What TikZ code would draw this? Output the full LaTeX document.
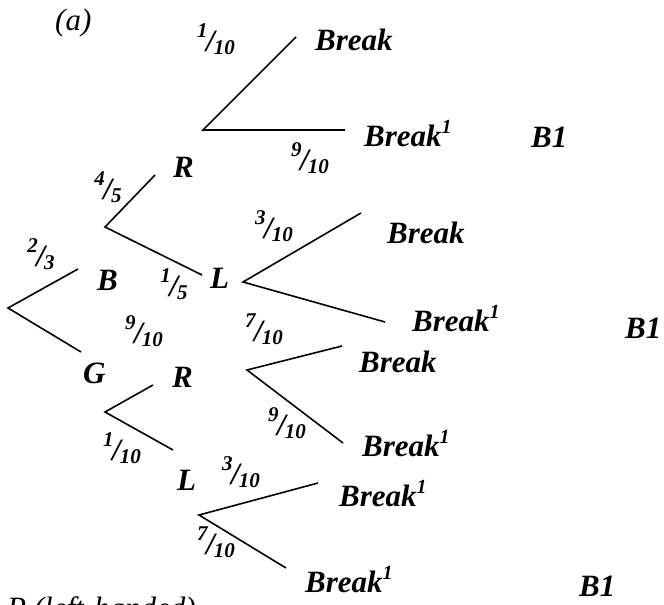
\documentclass[tikz,border=0pt]{standalone}
\usepackage{fontspec}
\setmainfont{Liberation Serif}
\newcommand{\frc}[2]{\raisebox{14pt}{\fontsize{21}{21}\selectfont#1}\kern-1.5pt/\kern-1pt\raisebox{-3.5pt}{\fontsize{21}{21}\selectfont#2}}
\newcommand{\brk}{Break\raisebox{13pt}{\fontsize{20}{20}\selectfont 1}}

\begin{document}
\begin{tikzpicture}[x=1pt, y=-1pt,
    lbl/.style={font=\bfseries\itshape\fontsize{31}{36}\selectfont, inner sep=0pt, anchor=base west},
    prob/.style={font=\bfseries\itshape\fontsize{31}{36}\selectfont, inner sep=0pt},
    note/.style={font=\itshape\fontsize{31}{36}\selectfont, inner sep=0pt, anchor=base west}]
    \useasboundingbox (0,0) rectangle (664,605);

    % branch points and free ends
    \coordinate (root) at (8,308);
    \coordinate (rootu) at (78,269);
    \coordinate (rootd) at (81,352);
    \coordinate (bv) at (105,227);
    \coordinate (bu) at (155,175);
    \coordinate (bd) at (202,275);
    \coordinate (gv) at (105,412);
    \coordinate (gu) at (153,385);
    \coordinate (gd) at (173,450);
    \coordinate (rt) at (203,130);
    \coordinate (rtu) at (296,37);
    \coordinate (rtd) at (345,130);
    \coordinate (lu) at (243,282);
    \coordinate (luu) at (361,213);
    \coordinate (lud) at (385,322);
    \coordinate (rl) at (247,370);
    \coordinate (rlu) at (342,346);
    \coordinate (rld) at (343,443);
    \coordinate (ll) at (199,515);
    \coordinate (llu) at (318,483);
    \coordinate (lld) at (286,568);

    \draw[ultra thick] (rootu) -- (root) -- (rootd);
    \draw[ultra thick] (bu) -- (bv) -- (bd);
    \draw[ultra thick] (gu) -- (gv) -- (gd);
    \draw[ultra thick] (rtu) -- (rt) -- (rtd);
    \draw[ultra thick] (luu) -- (lu) -- (lud);
    \draw[ultra thick] (rlu) -- (rl) -- (rld);
    \draw[ultra thick] (llu) -- (ll) -- (lld);

    % outcomes
    \node[note] (title) at (55,30) {(a)};
    \node[lbl] (nB) at (97,290) {B};
    \node[lbl] (nG) at (83,383) {G};
    \node[lbl] (nRa) at (173,177) {R};
    \node[lbl] (nLa) at (210,288) {L};
    \node[lbl] (nRb) at (172,387) {R};
    \node[lbl] (nLb) at (177,490) {L};
    \node[lbl] (k1) at (315,50) {Break};
    \node[lbl] (k2) at (364,146) {\brk};
    \node[lbl] (k3) at (387,243) {Break};
    \node[lbl] (k4) at (412,331) {\brk};
    \node[lbl] (k5) at (359,372) {Break};
    \node[lbl] (k6) at (362,456) {\brk};
    \node[lbl] (k7) at (339,506) {\brk};
    \node[lbl] (k8) at (305,592) {\brk};
    \node[lbl] (b1a) at (531,147) {B1};
    \node[lbl] (b1b) at (625,338) {B1};
    \node[lbl] (b1c) at (579,596) {B1};
    \node[note] (foot) at (7,618) {P (left-handed)};

    % probabilities
    \node[prob] (p1) at (216,39) {\frc{1}{10}};
    \node[prob] (p2) at (310,158) {\frc{9}{10}};
    \node[prob] (p3) at (108,187) {\frc{4}{5}};
    \node[prob] (p4) at (41,254) {\frc{2}{3}};
    \node[prob] (p5) at (174,284) {\frc{1}{5}};
    \node[prob] (p6) at (274,226) {\frc{3}{10}};
    \node[prob] (p7) at (144,331) {\frc{9}{10}};
    \node[prob] (p8) at (264,329) {\frc{7}{10}};
    \node[prob] (p9) at (287,423) {\frc{9}{10}};
    \node[prob] (p10) at (122,448) {\frc{1}{10}};
    \node[prob] (p11) at (241,472) {\frc{3}{10}};
    \node[prob] (p12) at (216,542) {\frc{7}{10}};
\end{tikzpicture}
\end{document}
